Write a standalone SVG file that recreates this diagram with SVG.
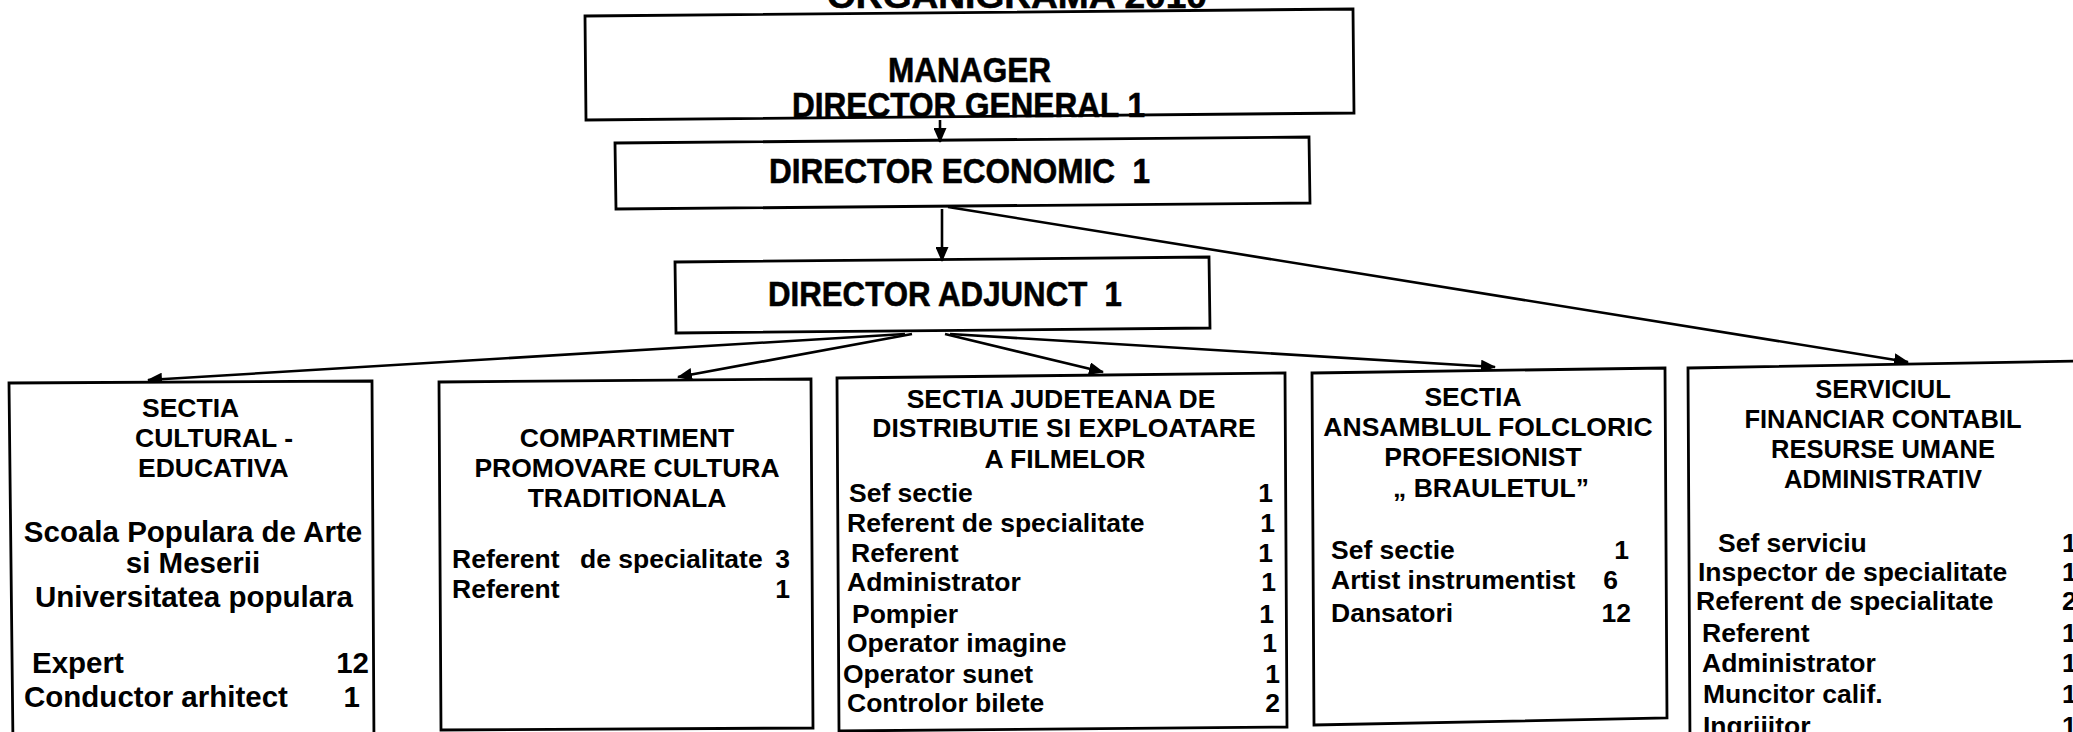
<svg xmlns="http://www.w3.org/2000/svg" width="2073" height="732" viewBox="0 0 2073 732">
<style>
.box{fill:#fff;stroke:#000;stroke-width:2.8}
.con{stroke:#000;stroke-width:2.6;fill:none;marker-end:url(#arr)}
text{font-family:"Liberation Sans",Arial,sans-serif;font-weight:bold;fill:#000;white-space:pre}
.n{font-family:"Liberation Sans Narrow","Liberation Sans",Arial,sans-serif;font-size:35px;stroke:#000;stroke-width:0.6}
.h{font-size:26.5px;text-anchor:middle}
.b{font-size:26.5px}
.bl{font-size:29.5px}
.c{text-anchor:middle}
.r{text-anchor:end}
</style>
<defs>
<marker id="arr" markerWidth="15" markerHeight="13" refX="14" refY="6.5" orient="auto" markerUnits="userSpaceOnUse">
<path d="M0,0 L15,6.5 L0,13 z" fill="#000"/>
</marker>
</defs>
<rect width="2073" height="732" fill="#fff"/>

<g id="title">
<text class="n" x="827" y="8" textLength="380" lengthAdjust="spacingAndGlyphs">ORGANIGRAMA 2010</text>
</g>

<g id="manager">
<polygon class="box" points="585,16 1353,9 1354,113 586,120"/>
<text class="n" x="888" y="82" textLength="163" lengthAdjust="spacingAndGlyphs">MANAGER</text>
<text class="n" x="792" y="117" textLength="353" lengthAdjust="spacingAndGlyphs">DIRECTOR GENERAL 1</text>
</g>

<g id="director-economic">
<polygon class="box" points="615,143 1309,137 1310,203 616,209"/>
<text class="n" x="769" y="183" textLength="381" lengthAdjust="spacingAndGlyphs">DIRECTOR ECONOMIC  1</text>
</g>

<g id="director-adjunct">
<polygon class="box" points="675,262 1209,257 1210,328 676,333"/>
<text class="n" x="768" y="306" textLength="354" lengthAdjust="spacingAndGlyphs">DIRECTOR ADJUNCT  1</text>
</g>

<g id="connectors">
<line class="con" x1="940" y1="120" x2="940" y2="142"/>
<line class="con" x1="942" y1="209" x2="942" y2="261"/>
<line class="con" x1="948" y1="207" x2="1908" y2="362"/>
<line class="con" x1="905" y1="334" x2="148" y2="380"/>
<line class="con" x1="912" y1="334" x2="678" y2="377"/>
<line class="con" x1="945" y1="334" x2="1103" y2="372"/>
<line class="con" x1="950" y1="334" x2="1495" y2="367"/>
</g>

<g id="sectia-cultural">
<polygon class="box" points="9,383 372,381 374,745 13,745"/>
<text class="b" x="142" y="417">SECTIA</text>
<text class="b" x="135" y="447">CULTURAL -</text>
<text class="b" x="138" y="477">EDUCATIVA</text>
<text class="bl c" x="193" y="542">Scoala Populara de Arte</text>
<text class="bl c" x="193" y="573">si Meserii</text>
<text class="bl c" x="194" y="607">Universitatea populara</text>
<text class="bl" x="32" y="673">Expert</text>
<text class="bl r" x="369" y="673">12</text>
<text class="bl" x="24" y="707">Conductor arhitect</text>
<text class="bl r" x="360" y="707">1</text>
</g>

<g id="compartiment">
<polygon class="box" points="439,382 811,379 813,728 441,730"/>
<text class="h" x="627" y="447">COMPARTIMENT</text>
<text class="h" x="627" y="477">PROMOVARE CULTURA</text>
<text class="h" x="627" y="507">TRADITIONALA</text>
<text class="b" x="452" y="568">Referent</text>
<text class="b" x="580" y="568">de specialitate</text>
<text class="b r" x="790" y="568">3</text>
<text class="b" x="452" y="598">Referent</text>
<text class="b r" x="790" y="598">1</text>
</g>

<g id="sectia-filme">
<polygon class="box" points="837,378 1285,373 1287,727 839,731"/>
<text class="h" x="1061" y="408">SECTIA JUDETEANA DE</text>
<text class="h" x="1064" y="437">DISTRIBUTIE SI EXPLOATARE</text>
<text class="h" x="1065" y="468">A FILMELOR</text>
<text class="b" x="849" y="502">Sef sectie</text>
<text class="b r" x="1273" y="502">1</text>
<text class="b" x="847" y="532">Referent de specialitate</text>
<text class="b r" x="1275" y="532">1</text>
<text class="b" x="851" y="562">Referent</text>
<text class="b r" x="1273" y="562">1</text>
<text class="b" x="847" y="591">Administrator</text>
<text class="b r" x="1276" y="591">1</text>
<text class="b" x="852" y="623">Pompier</text>
<text class="b r" x="1274" y="623">1</text>
<text class="b" x="847" y="652">Operator imagine</text>
<text class="b r" x="1277" y="652">1</text>
<text class="b" x="843" y="683">Operator sunet</text>
<text class="b r" x="1280" y="683">1</text>
<text class="b" x="847" y="712">Controlor bilete</text>
<text class="b r" x="1280" y="712">2</text>
</g>

<g id="sectia-ansamblu">
<polygon class="box" points="1312,373 1665,368 1667,718 1314,725"/>
<text class="h" x="1473" y="406">SECTIA</text>
<text class="h" x="1488" y="436">ANSAMBLUL FOLCLORIC</text>
<text class="h" x="1483" y="466">PROFESIONIST</text>
<text class="h" x="1491" y="497">„ BRAULETUL”</text>
<text class="b" x="1331" y="559">Sef sectie</text>
<text class="b r" x="1629" y="559">1</text>
<text class="b" x="1331" y="589">Artist instrumentist</text>
<text class="b r" x="1618" y="589">6</text>
<text class="b" x="1331" y="622">Dansatori</text>
<text class="b r" x="1631" y="622">12</text>
</g>

<g id="serviciul">
<polygon class="box" points="1688,368 2085,361 2085,745 1690,745"/>
<text class="h" x="1883" y="398" style="font-size:25.5px">SERVICIUL</text>
<text class="h" x="1883" y="428" style="font-size:25.5px">FINANCIAR CONTABIL</text>
<text class="h" x="1883" y="458" style="font-size:25.5px">RESURSE UMANE</text>
<text class="h" x="1883" y="488" style="font-size:25.5px">ADMINISTRATIV</text>
<text class="b" x="1718" y="552">Sef serviciu</text>
<text class="b" x="1698" y="581">Inspector de specialitate</text>
<text class="b" x="1696" y="610">Referent de specialitate</text>
<text class="b" x="1702" y="642">Referent</text>
<text class="b" x="1702" y="672">Administrator</text>
<text class="b" x="1703" y="703">Muncitor calif.</text>
<text class="b" x="1703" y="735">Ingrijitor</text>
<text class="b" x="2062" y="552">1</text>
<text class="b" x="2062" y="581">1</text>
<text class="b" x="2062" y="610">2</text>
<text class="b" x="2062" y="642">1</text>
<text class="b" x="2062" y="672">1</text>
<text class="b" x="2062" y="703">1</text>
<text class="b" x="2062" y="735">1</text>
</g>
</svg>
